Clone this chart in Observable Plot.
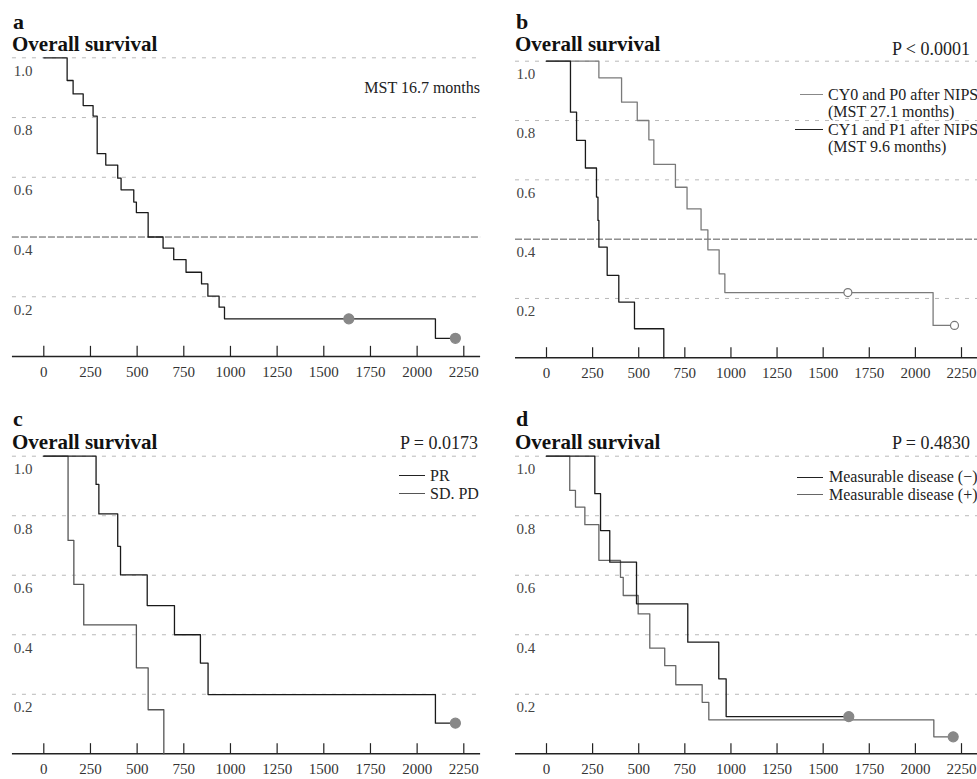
<!DOCTYPE html>
<html><head><meta charset="utf-8">
<script src="https://cdn.jsdelivr.net/npm/d3@7"></script>
<script src="https://cdn.jsdelivr.net/npm/@observablehq/plot@0.6"></script>
<style>
body{margin:0;background:#fff;}
#root{position:relative;width:977px;height:779px;overflow:hidden;font-family:"Liberation Serif","DejaVu Serif","Times New Roman",serif;color:#111;}
#root svg, #root svg text{font-family:"Liberation Serif","DejaVu Serif","Times New Roman",serif !important;}
.abs{position:absolute;white-space:nowrap;line-height:1;font-family:"Liberation Serif","DejaVu Serif",serif;}
.letter{font-size:22px;font-weight:bold;}
.title{font-size:21px;font-weight:bold;}
.pval{font-size:18px;color:#222;}
.leg{font-size:16px;color:#222;}
.swatch{position:absolute;height:0;}
.panel{position:absolute;}
</style></head><body><div id="root"></div>
<script>
// ---------- data ----------
const xTicks = [0, 250, 500, 750, 1000, 1250, 1500, 1750, 2000, 2250];
const yTicks = [0.2, 0.4, 0.6, 0.8, 1.0];

// panel a: overall survival (all patients)
const aDays = [0,125,157,211,264,286,332,396,414,482,496,559,639,696,762,845,879,939,968,2098,2205];
const aSurv = [1,0.924,0.879,0.840,0.805,0.679,0.641,0.597,0.558,0.517,0.482,0.400,0.363,0.324,0.282,0.243,0.202,0.165,0.126,0.061,0.061];
const aCensDays = [1634, 2205];
const aCensSurv = [0.126, 0.061];

// panel b: CY0/P0 vs CY1/P1 after NIPS
const cy0Days = [0,284,407,492,555,582,699,762,838,875,936,967,2096,2212];
const cy0Surv = [1,0.944,0.862,0.800,0.735,0.652,0.575,0.502,0.431,0.364,0.283,0.220,0.109,0.109];
const cy1Days = [0,130,163,211,271,279,284,329,392,477,636];
const cy1Surv = [1,0.828,0.733,0.640,0.542,0.463,0.373,0.278,0.188,0.098,0];
const bCensDays = [1634, 2212];
const bCensSurv = [0.220, 0.109];

// panel c: PR vs SD, PD
const prDays = [0,280,295,396,411,554,700,839,880,2098,2205];
const prSurv = [1,0.905,0.806,0.697,0.601,0.498,0.400,0.305,0.199,0.103,0.103];
const sdDays = [0,130,161,214,496,559,643];
const sdSurv = [1,0.717,0.569,0.433,0.289,0.148,0];
const cCensDays = [2205];
const cCensSurv = [0.103];

// panel d: measurable disease (-) vs (+)
const negDays = [0,262,293,343,488,766,934,974,1639];
const negSurv = [1,0.874,0.750,0.644,0.504,0.375,0.252,0.125,0.125];
const posDays = [0,126,157,208,284,401,416,497,560,641,701,844,880,2100,2205];
const posSurv = [1,0.885,0.829,0.770,0.650,0.593,0.532,0.470,0.355,0.296,0.232,0.173,0.114,0.057,0.057];
const dCensDays = [1639, 2205];
const dCensSurv = [0.125, 0.057];

// ---------- helpers ----------
const FONT = '"Liberation Serif","DejaVu Serif","Times New Roman",serif';
const axisSpan = [-168, 2340];
const rows = (days, surv) => days.map((d, i) => ({day: d, surv: surv[i]}));

function panel(cfg) {
  const marks = [
    Plot.ruleY(yTicks.filter(v => v !== cfg.darkGrid), {y: d => d, x1: axisSpan[0], x2: axisSpan[1], stroke: "#b0b0b0", strokeWidth: 0.9, strokeDasharray: "4,6"}),
  ];
  if (cfg.darkGrid != null) {
    marks.push(Plot.ruleY([cfg.darkGrid], {y: d => d, x1: axisSpan[0], x2: axisSpan[1], stroke: "#555", strokeWidth: 1, strokeDasharray: "7,2"}));
  }
  marks.push(
    Plot.ruleY([0], {y: d => d, x1: axisSpan[0], x2: axisSpan[1], stroke: "#222", strokeWidth: 1.5}),
    Plot.ruleX(xTicks, {x: d => d, y1: 0, y2: 0.034, stroke: "#222", strokeWidth: 1.2}),
    Plot.axisX(xTicks, {tickSize: 0, tickPadding: 10, fontSize: 15, fill: "#333", label: null, tickFormat: d => String(d), fontFamily: FONT}),
    Plot.text(yTicks, {y: d => d, frameAnchor: "left", dx: -30, dy: 13, text: d => d.toFixed(1), textAnchor: "start", fontSize: 15, fill: "#444", fontFamily: FONT})
  );
  for (const s of cfg.series) {
    marks.push(Plot.line(s.data, {x: "day", y: "surv", curve: "step-after", stroke: s.stroke, strokeWidth: s.width || 1.3}));
  }
  if (cfg.censor) {
    marks.push(Plot.dot(cfg.censor.data, {x: "day", y: "surv", r: cfg.censor.open ? 4 : 5,
      fill: cfg.censor.open ? "#fff" : "#888", stroke: cfg.censor.open ? "#777" : "#888", strokeWidth: 1.2}));
  }
  const p = Plot.plot({
    width: cfg.width, height: cfg.height,
    marginLeft: cfg.ml, marginRight: cfg.mr, marginTop: cfg.mt, marginBottom: cfg.mb,
    x: {domain: [0, 2250], axis: null},
    y: {domain: [0, 1], axis: null},
    style: {fontFamily: FONT, background: "transparent", overflow: "visible"},
    marks
  });
  p.classList.add("panel");
  p.style.left = cfg.left + "px";
  p.style.top = cfg.top + "px";
  return p;
}

const root = document.getElementById("root");

root.appendChild(panel({
  left: 0, top: 0, width: 490, height: 390, ml: 43.3, mr: 26.7, mt: 57.3, mb: 34,
  darkGrid: 0.4,
  series: [{data: rows(aDays, aSurv), stroke: "#1a1a1a"}],
  censor: {data: rows(aCensDays, aCensSurv)}
}));
root.appendChild(panel({
  left: 490, top: 0, width: 487, height: 390, ml: 56, mr: 16, mt: 60.7, mb: 32.7,
  darkGrid: 0.4,
  series: [{data: rows(cy0Days, cy0Surv), stroke: "#7a7a7a"}, {data: rows(cy1Days, cy1Surv), stroke: "#1a1a1a"}],
  censor: {data: rows(bCensDays, bCensSurv), open: true}
}));
root.appendChild(panel({
  left: 0, top: 390, width: 490, height: 389, ml: 43.3, mr: 26.7, mt: 65.7, mb: 25.7,
  darkGrid: null,
  series: [{data: rows(sdDays, sdSurv), stroke: "#555"}, {data: rows(prDays, prSurv), stroke: "#1a1a1a"}],
  censor: {data: rows(cCensDays, cCensSurv)}
}));
root.appendChild(panel({
  left: 490, top: 390, width: 487, height: 389, ml: 56, mr: 16, mt: 65.7, mb: 25.7,
  darkGrid: null,
  series: [{data: rows(posDays, posSurv), stroke: "#666"}, {data: rows(negDays, negSurv), stroke: "#1a1a1a"}],
  censor: {data: rows(dCensDays, dCensSurv)}
}));

// ---------- text overlays ----------
function txt(cls, s, left, top, right) {
  const d = document.createElement("div");
  d.className = "abs " + cls;
  d.textContent = s;
  d.style.top = top + "px";
  if (right != null) d.style.right = right + "px"; else d.style.left = left + "px";
  root.appendChild(d);
}
function swatch(left, top, width, color, w) {
  const d = document.createElement("div");
  d.className = "swatch";
  d.style.left = left + "px"; d.style.top = top + "px"; d.style.width = width + "px";
  d.style.borderTop = w + "px solid " + color;
  root.appendChild(d);
}

// panel a
txt("letter", "a", 13, 10.6);
txt("title", "Overall survival", 12, 34.4);
txt("leg", "MST 16.7 months", null, 79.6, 977 - 480);
// panel b
txt("letter", "b", 516, 10.6);
txt("title", "Overall survival", 515, 34.4);
txt("pval", "P < 0.0001", null, 39.9, 7);
swatch(800, 94, 23, "#888", 1);
txt("leg", "CY0 and P0 after NIPS", 828, 86.6);
txt("leg", "(MST 27.1 months)", 828, 103.6);
swatch(795, 129, 28, "#222", 1.5);
txt("leg", "CY1 and P1 after NIPS", 828, 121.6);
txt("leg", "(MST 9.6 months)", 828, 139.3);
// panel c
txt("letter", "c", 13, 408.3);
txt("title", "Overall survival", 12, 431.7);
txt("pval", "P = 0.0173", null, 433.9, 977 - 478);
swatch(399, 475, 26, "#222", 1.2);
txt("leg", "PR", 430, 467.6);
swatch(399, 493, 26, "#555", 1.2);
txt("leg", "SD. PD", 430, 485.6);
// panel d
txt("letter", "d", 516, 407.6);
txt("title", "Overall survival", 515, 431.7);
txt("pval", "P = 0.4830", null, 433.9, 7);
swatch(797, 476.5, 26, "#222", 1.2);
txt("leg", "Measurable disease (\u2212)", 829, 469.3);
swatch(797, 494, 26, "#666", 1.2);
txt("leg", "Measurable disease (+)", 829, 486.6);
</script>
</body></html>
